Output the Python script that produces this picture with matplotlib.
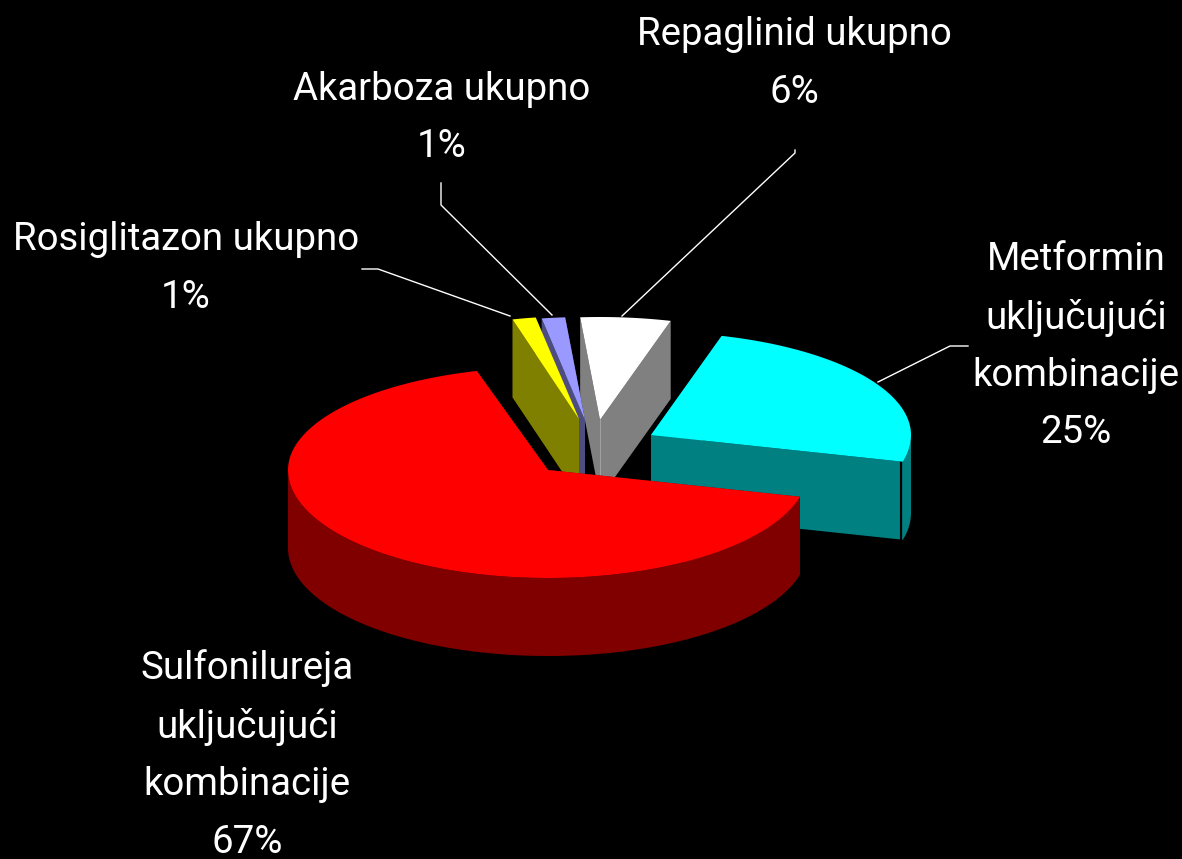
import numpy as np
import matplotlib
matplotlib.use("Agg")
import matplotlib.pyplot as plt
from matplotlib.patches import Polygon

names = ["Sulfonilureja\nuključujući\nkombinacije", "Metformin\nuključujući\nkombinacije",
         "Repaglinid ukupno", "Akarboza ukupno", "Rosiglitazon ukupno"]
values = [66.6, 24.6, 5.6, 1.45, 1.45]
top_colors = ["#FF0000", "#00FFFF", "#FFFFFF", "#9999FF", "#FFFF00"]
side_colors = ["#800000", "#008080", "#808080", "#4D4D80", "#808000"]
apex_x = [548, 651, 600, 585, 579]
apex_y = [470, 435, 420, 420, 419]
label_x = [247, 1076, 794, 442, 186]
label_y = [755, 346, 63.5, 118, 268.5]
leaders = [None,
           ([968, 950, 878], [346, 346, 382]),
           ([795, 795, 622], [150, 153, 316]),
           ([441, 441, 552], [183, 205, 315]),
           ([362, 378, 510], [269, 269, 316])]

START_ANGLE = 105.9
RX, RY_BACK, RY_FRONT, DEPTH = 260, 103, 108, 78

plt.rcParams["font.family"] = ["Roboto", "Liberation Sans", "DejaVu Sans"]
fig = plt.figure(figsize=(11.82, 8.59), dpi=100, facecolor="black")
ax = fig.add_axes([0, 0, 1, 1])
ax.set_xlim(0, 1182)
ax.set_ylim(859, 0)
ax.axis("off")


def rim(cx, cy, a0, a1):
    t = np.radians(np.linspace(a0, a1, 200))
    s = np.sin(t)
    ry = np.where(s > 0, RY_BACK, RY_FRONT)
    return cx + RX * np.cos(t), cy - ry * s


spans = 3.6 * np.array(values)
edges = START_ANGLE + np.concatenate([[0], np.cumsum(spans)])
z = {2: 1, 3: 2, 4: 3, 1: 4, 0: 5}

for i in range(len(values)):
    a0, a1 = edges[i], edges[i + 1]
    cx, cy = apex_x[i], apex_y[i]
    order = z[i] * 10
    x, y = rim(cx, cy, a0, a1)
    # radial end walls
    for xe, ye in ((x[0], y[0]), (x[-1], y[-1])):
        ax.add_patch(Polygon([(cx, cy), (xe, ye), (xe, ye + DEPTH), (cx, cy + DEPTH)],
                             fc=side_colors[i], ec="none", zorder=order))
    # outer rim, only where it faces the viewer
    mask = np.sin(np.radians(np.linspace(a0, a1, 200))) < 0
    if mask.any():
        xr, yr = x[mask], y[mask]
        ax.add_patch(Polygon(np.r_[np.c_[xr, yr], np.c_[xr[::-1], yr[::-1] + DEPTH]],
                             fc=side_colors[i], ec="none", zorder=order + 1))
    # top face
    ax.add_patch(Polygon(np.r_[[[cx, cy]], np.c_[x, y]],
                         fc=top_colors[i], ec="none", zorder=order + 2))
    # thin separator at the cyan slice's front corner
    if i == 1:
        ax.plot([x[0] - 2, x[0] - 2], [y[0], y[0] + DEPTH], color="black", lw=1.5, zorder=order + 1.5)
    if i == 2:
        ax.plot([cx, cx], [cy, cy + DEPTH], color="#A0A0A0", lw=0.8, zorder=order + 1.5)

for i, n in enumerate(names):
    ax.text(label_x[i], label_y[i], f"{n}\n{round(values[i])}%", color="white",
            fontsize=27.6, ha="center", va="center", linespacing=1.7, zorder=100)
    if leaders[i]:
        ax.plot(leaders[i][0], leaders[i][1], color="white", lw=1, zorder=99)

fig.savefig("out.png", dpi=100, facecolor="black")
